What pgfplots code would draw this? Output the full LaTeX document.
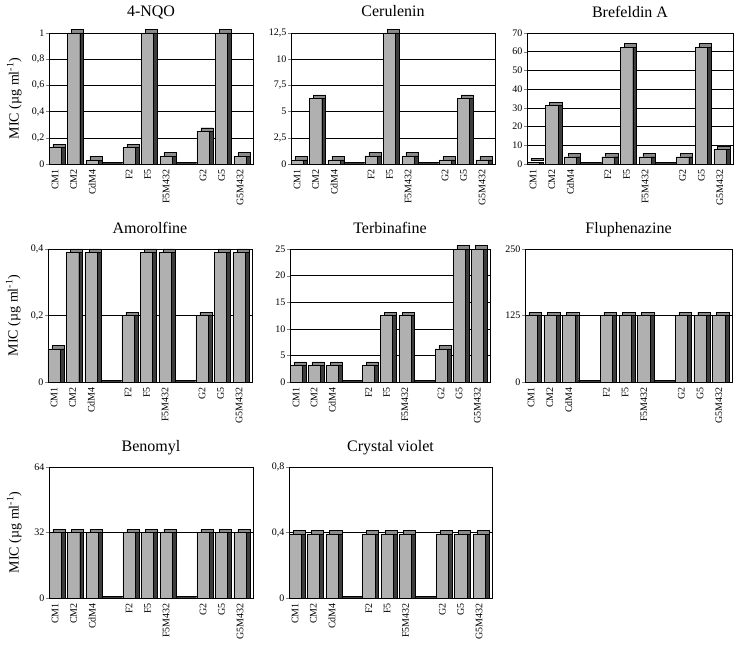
\documentclass[border=0pt]{standalone}
\usepackage{fontspec}
\setmainfont{Liberation Serif}
\usepackage{pgfplots}
\pgfplotsset{compat=1.18}
\usepackage{pgfplotstable}
\definecolor{barfront}{HTML}{B0B0B0}
\definecolor{bartop}{HTML}{8A8A8A}
\definecolor{barside}{HTML}{3C3C3C}

\pgfplotsset{
  mic/.style={
    scale only axis, anchor=south west, clip=false,
    xmin=-0.33, xmax=10.7, ymin=0,
    xtick={0,1,2,4,5,6,8,9,10},
    xticklabels={CM1,CM2,CdM4,F2,F5,F5M432,G2,G5,G5M432},
    xticklabel style={rotate=90, anchor=east, font=\fontsize{10}{11}\selectfont, inner sep=2pt},
    x tick style={draw=none},
    ytick pos=left, tick align=outside, major tick length=3pt,
    yticklabel style={font=\fontsize{10}{11}\selectfont, inner sep=1.5pt},
    ymajorgrids, grid style={black, line width=0.5pt},
    axis line style={line width=0.5pt},
    title style={font=\fontsize{16}{18}\selectfont, at={(0.5,1)}, anchor=base, yshift=10pt, inner sep=0pt},
    ylabel style={font=\fontsize{14}{16}\selectfont, at={(axis description cs:-0.17,0.5)}, anchor=center},
    /pgf/number format/use comma,
    /pgf/number format/1000 sep={},
    /pgf/number format/assume math mode=true,
  },
  backbar/.style={ybar, bar shift=0pt, bar width=0.66, fill=bartop, draw=black, line width=0.4pt, xshift=3.8pt, yshift=3.5pt},
  sidebar/.style={ybar, bar shift=0pt, bar width=0.66, fill=barside, draw=black, line width=0.4pt, xshift=3.8pt},
  frontbar/.style={ybar, bar shift=0pt, bar width=0.66, fill=barfront, draw=black, line width=0.4pt},
  gapbar/.style={ybar, bar shift=0pt, bar width=1.15, fill=barside, draw=black, line width=0.3pt, xshift=1.5pt},
}

\pgfplotstableread{
x y
0 0.125
1 1
2 0.03
4 0.125
5 1
6 0.06
8 0.25
9 1
10 0.06
}\nqo
\pgfplotstableread{
x y
0 0.39
1 6.25
2 0.39
4 0.78
5 12.5
6 0.78
8 0.39
9 6.25
10 0.39
}\cer
\pgfplotstableread{
x y
0 0.98
1 31.25
2 3.9
4 3.9
5 62.5
6 3.9
8 3.9
9 62.5
10 7.8
}\bre
\pgfplotstableread{
x y
0 0.1
1 0.39
2 0.39
4 0.2
5 0.39
6 0.39
8 0.2
9 0.39
10 0.39
}\amo
\pgfplotstableread{
x y
0 3.125
1 3.125
2 3.125
4 3.125
5 12.5
6 12.5
8 6.25
9 25
10 25
}\ter
\pgfplotstableread{
x y
0 125
1 125
2 125
4 125
5 125
6 125
8 125
9 125
10 125
}\flu
\pgfplotstableread{
x y
0 32
1 32
2 32
4 32
5 32
6 32
8 32
9 32
10 32
}\ben
\pgfplotstableread{
x y
0 0.39
1 0.39
2 0.39
4 0.39
5 0.39
6 0.39
8 0.39
9 0.39
10 0.39
}\cvi

\begin{document}
\begin{tikzpicture}
\path[use as bounding box] (0,0) rectangle (743pt,649pt);

% Row 1
\begin{axis}[mic, at={(49pt,485pt)}, width=204pt, height=131pt,
  title={4-NQO}, ylabel={MIC (µg ml\textsuperscript{-1})},
  ymax=1, ytick={0,0.2,0.4,0.6,0.8,1}]
\addplot[gapbar] coordinates {(3,0.012) (7,0.012)};
\addplot[backbar] table {\nqo};
\addplot[sidebar] table {\nqo};
\addplot[frontbar] table {\nqo};
\end{axis}

\begin{axis}[mic, at={(291pt,485pt)}, width=204pt, height=131pt,
  title={Cerulenin},
  ymax=12.5, ytick={0,2.5,5,7.5,10,12.5}]
\addplot[gapbar] coordinates {(3,0.15) (7,0.15)};
\addplot[backbar] table {\cer};
\addplot[sidebar] table {\cer};
\addplot[frontbar] table {\cer};
\end{axis}

\begin{axis}[mic, at={(527pt,485pt)}, width=206pt, height=131pt,
  title={Brefeldin A},
  ymax=70, ytick={0,10,20,30,40,50,60,70}]
\addplot[gapbar] coordinates {(3,0.8) (7,0.8)};
\addplot[backbar] table {\bre};
\addplot[sidebar] table {\bre};
\addplot[frontbar] table {\bre};
\end{axis}

% Row 2
\begin{axis}[mic, at={(48pt,267pt)}, width=204pt, height=133pt,
  title={Amorolfine}, ylabel={MIC (µg ml\textsuperscript{-1})},
  ymax=0.4, ytick={0,0.2,0.4}]
\addplot[gapbar] coordinates {(3,0.005) (7,0.005)};
\addplot[backbar] table {\amo};
\addplot[sidebar] table {\amo};
\addplot[frontbar] table {\amo};
\end{axis}

\begin{axis}[mic, at={(290pt,267pt)}, width=200pt, height=133pt,
  title={Terbinafine},
  ymax=25, ytick={0,5,10,15,20,25}]
\addplot[gapbar] coordinates {(3,0.3) (7,0.3)};
\addplot[backbar] table {\ter};
\addplot[sidebar] table {\ter};
\addplot[frontbar] table {\ter};
\end{axis}

\begin{axis}[mic, at={(525pt,267pt)}, width=207pt, height=133pt,
  title={Fluphenazine},
  ymax=250, ytick={0,125,250}]
\addplot[gapbar] coordinates {(3,3) (7,3)};
\addplot[backbar] table {\flu};
\addplot[sidebar] table {\flu};
\addplot[frontbar] table {\flu};
\end{axis}

% Row 3
\begin{axis}[mic, at={(49pt,51pt)}, width=204pt, height=131pt,
  title={Benomyl}, ylabel={MIC (µg ml\textsuperscript{-1})},
  ymax=64, ytick={0,32,64}]
\addplot[gapbar] coordinates {(3,0.8) (7,0.8)};
\addplot[backbar] table {\ben};
\addplot[sidebar] table {\ben};
\addplot[frontbar] table {\ben};
\end{axis}

\begin{axis}[mic, at={(289pt,51pt)}, width=203pt, height=131pt,
  title={Crystal violet},
  ymax=0.8, ytick={0,0.4,0.8}]
\addplot[gapbar] coordinates {(3,0.01) (7,0.01)};
\addplot[backbar] table {\cvi};
\addplot[sidebar] table {\cvi};
\addplot[frontbar] table {\cvi};
\end{axis}
\end{tikzpicture}
\end{document}
